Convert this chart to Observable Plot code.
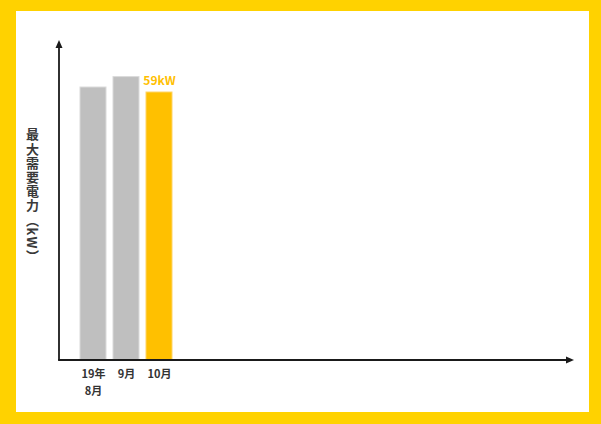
<!DOCTYPE html>
<html><head><meta charset="utf-8">
<script src="https://cdn.jsdelivr.net/npm/d3@7"></script>
<script src="https://cdn.jsdelivr.net/npm/@observablehq/plot@0.6"></script>
<style>
html,body{margin:0;padding:0;}
body{width:601px;height:424px;background:#FFD200;position:relative;overflow:hidden;font-family:"Noto Sans CJK JP",sans-serif;}
#chart{position:absolute;left:16px;top:11px;width:573px;height:401px;background:#fff;}
#ytitle{position:absolute;left:24px;top:128px;writing-mode:vertical-rl;font-size:13px;letter-spacing:1.2px;font-weight:bold;color:#3a3a3a;line-height:16px;}
</style></head><body>
<div id="chart"></div>
<div id="ytitle"></div>
<script>
const months = ["19年\n8月", "9月", "10月"];
const demandKW = [60.1, 62.4, 59];
const highlightMonth = "10月";
const unit = "kW";
const yTitle = "最大需要電力（kW）";

document.getElementById("ytitle").textContent = yTitle;

const data = months.map((m, i) => ({month: m, value: demandKW[i]}));
const W = 573, H = 401, mL = 43, mT = 29, mB = 52, mR = 15;

const plot = Plot.plot({
  width: W, height: H,
  marginLeft: mL, marginTop: mT, marginBottom: mB, marginRight: mR,
  style: {background: "transparent", fontFamily: "'Noto Sans CJK JP', sans-serif"},
  x: {domain: months, range: [mL + 17, mL + 117], paddingInner: 0.2, paddingOuter: 0.1, label: null},
  y: {domain: [0, 70.45], axis: null},
  color: {type: "identity"},
  marks: [
    Plot.barY(data, {
      x: "month", y: "value",
      fill: d => d.month === highlightMonth ? "#FFC000" : "#BFBFBF",
      stroke: d => d.month === highlightMonth ? "#FFD466" : "#DADADA",
      strokeWidth: 1, inset: 0
    }),
    Plot.text(data.filter(d => d.month === highlightMonth), {
      x: "month", y: "value", text: d => d.value + unit,
      dy: -8, lineAnchor: "bottom", fill: "#FFC000", fontWeight: "bold", fontSize: 12
    }),
    Plot.axisX({tickSize: 0, tickPadding: 6, fontSize: 11, fontWeight: "bold", fill: "#333", lineHeight: 1.5, label: null})
  ]
});

// axis lines with arrowheads (decoration derived from margins)
const svg = d3.select(plot);
const x0 = mL, y0 = H - mB, xEnd = W - mR, yEnd = mT;
const g = svg.append("g").attr("fill", "#1a1a1a").attr("stroke", "#1a1a1a");
g.append("line").attr("x1", x0).attr("y1", y0).attr("x2", x0).attr("y2", yEnd + 6).attr("stroke-width", 1.8);
g.append("path").attr("stroke", "none").attr("d", `M${x0},${yEnd}L${x0 - 3.5},${yEnd + 8}L${x0 + 3.5},${yEnd + 8}Z`);
g.append("line").attr("x1", x0 - 0.9).attr("y1", y0).attr("x2", xEnd - 6).attr("y2", y0).attr("stroke-width", 1.8);
g.append("path").attr("stroke", "none").attr("d", `M${xEnd},${y0}L${xEnd - 8},${y0 - 3.5}L${xEnd - 8},${y0 + 3.5}Z`);

document.getElementById("chart").appendChild(plot);
</script>
</body></html>
